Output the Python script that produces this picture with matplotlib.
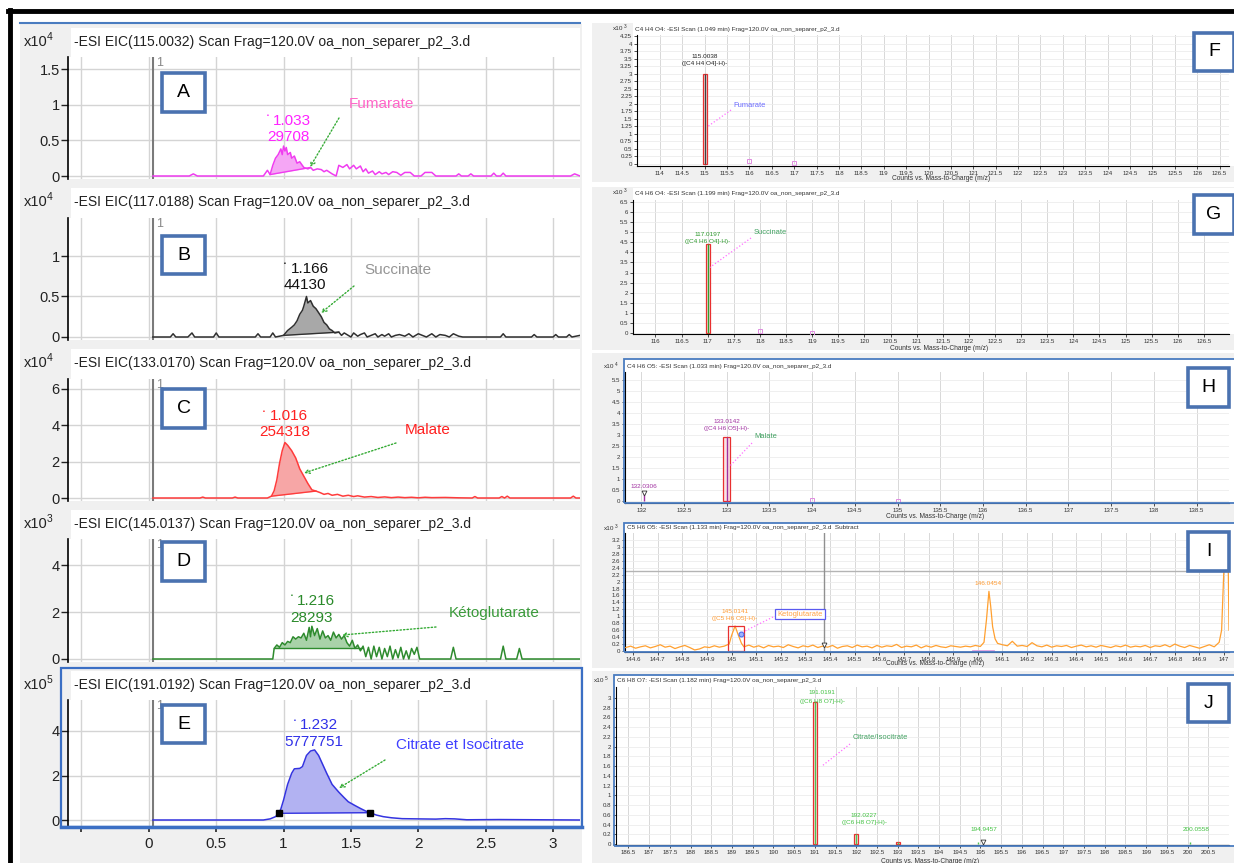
import numpy as np
import matplotlib
matplotlib.use('Agg')
import matplotlib.pyplot as plt
from matplotlib.patches import Rectangle, FancyArrowPatch
from matplotlib.lines import Line2D

W, H = 1234, 863
plt.rcParams['font.family'] = ['Liberation Sans', 'DejaVu Sans']

# ---- left column: extracted ion chromatograms, (time min, intensity)
fumarate_eic = [(0.03, 0), (0.30, 0), (0.33, 0.03), (0.36, 0), (0.85, 0), (0.88, 0.08), (0.90, 0.02),
                (0.92, 0.15), (0.94, 0.25), (0.96, 0.30), (0.98, 0.38), (0.99, 0.30), (1.00, 0.42),
                (1.01, 0.35), (1.02, 0.40), (1.03, 0.30), (1.05, 0.33), (1.06, 0.25), (1.08, 0.28),
                (1.10, 0.18), (1.12, 0.20), (1.15, 0.12), (1.18, 0.10), (1.20, 0.12), (1.22, 0.08),
                (1.25, 0.10), (1.28, 0.09), (1.30, 0.06), (1.32, 0.08), (1.36, 0.03), (1.39, 0.0),
                (1.41, 0.15), (1.44, 0.12), (1.47, 0.16), (1.49, 0.10), (1.52, 0.15), (1.54, 0.10),
                (1.57, 0.14), (1.59, 0.06), (1.61, 0.10), (1.63, 0.04), (1.66, 0.07), (1.68, 0.02),
                (1.71, 0.06), (1.73, 0.03), (1.76, 0.05), (1.78, 0.02), (1.81, 0.06), (1.84, 0.05),
                (1.87, 0.01), (1.90, 0.05), (1.94, 0.05), (1.97, 0.0), (2.02, 0.0), (2.05, 0.05),
                (2.10, 0.05), (2.13, 0.0), (2.28, 0), (2.30, 0.03), (2.32, 0), (2.37, 0), (2.39, 0.03),
                (2.41, 0), (2.54, 0), (2.56, 0.04), (2.58, 0), (2.61, 0), (2.63, 0.04), (2.65, 0),
                (3.13, 0), (3.16, 0.03), (3.20, 0)]
succinate_eic = [(0.03, 0), (0.16, 0), (0.18, 0.04), (0.20, 0), (0.29, 0), (0.32, 0.05), (0.34, 0),
                 (0.48, 0), (0.50, 0.05), (0.52, 0), (0.79, 0), (0.81, 0.04), (0.83, 0), (0.90, 0),
                 (0.92, 0.05), (0.94, 0), (1.00, 0.02), (1.03, 0.08), (1.06, 0.12), (1.08, 0.15),
                 (1.10, 0.20), (1.12, 0.28), (1.14, 0.33), (1.15, 0.38), (1.17, 0.50), (1.18, 0.42),
                 (1.20, 0.45), (1.22, 0.38), (1.24, 0.35), (1.26, 0.30), (1.28, 0.25), (1.30, 0.18),
                 (1.32, 0.15), (1.34, 0.10), (1.36, 0.08), (1.38, 0.05), (1.41, 0.06), (1.43, 0.02),
                 (1.45, 0.05), (1.48, 0.02), (1.50, 0.0), (1.52, 0.05), (1.55, 0.01), (1.57, 0.03),
                 (1.60, 0.05), (1.62, 0), (1.65, 0.02), (1.68, 0.04), (1.70, 0), (1.73, 0.03),
                 (1.75, 0.01), (1.78, 0.04), (1.80, 0), (1.83, 0.02), (1.86, 0.03), (1.90, 0.01),
                 (1.93, 0.04), (1.96, 0), (2.00, 0.04), (2.03, 0.02), (2.06, 0), (2.10, 0.04),
                 (2.13, 0), (2.16, 0.03), (2.20, 0.02), (2.23, 0), (2.26, 0.04), (2.30, 0.01),
                 (2.33, 0), (2.61, 0), (2.63, 0.04), (2.65, 0), (2.84, 0), (2.86, 0.03), (2.88, 0),
                 (3.00, 0), (3.02, 0.03), (3.04, 0), (3.10, 0), (3.12, 0.03), (3.14, 0), (3.20, 0.02)]
malate_eic = [(0.03, 0), (0.38, 0), (0.40, 0.05), (0.42, 0), (0.62, 0), (0.64, 0.05), (0.66, 0),
              (0.88, 0), (0.91, 0.1), (0.93, 0.4), (0.95, 1.0), (0.97, 1.9), (0.99, 2.6), (1.01, 3.05),
              (1.03, 2.9), (1.06, 2.6), (1.09, 2.2), (1.12, 1.6), (1.15, 1.2), (1.18, 0.8), (1.21, 0.45),
              (1.24, 0.38), (1.27, 0.3), (1.30, 0.2), (1.33, 0.25), (1.36, 0.15), (1.40, 0.2), (1.44, 0.1),
              (1.48, 0.15), (1.52, 0.08), (1.55, 0.12), (1.60, 0.05), (1.65, 0.08), (1.70, 0.03),
              (1.75, 0.06), (1.80, 0.02), (1.85, 0.05), (1.90, 0.02), (1.95, 0.04), (2.00, 0.01),
              (2.05, 0.04), (2.10, 0.02), (2.20, 0.03), (2.30, 0.01), (2.40, 0), (2.42, 0.08),
              (2.44, 0), (2.60, 0), (2.62, 0.08), (2.64, 0), (2.66, 0.1), (2.68, 0), (3.13, 0),
              (3.15, 0.1), (3.17, 0), (3.20, 0)]
ketoglutarate_eic = [(0.03, 0), (0.92, 0), (0.93, 0.45), (0.95, 0.6), (0.97, 0.5), (0.99, 0.7),
                     (1.01, 0.6), (1.03, 0.75), (1.05, 0.7), (1.07, 0.95), (1.09, 0.85), (1.11, 0.95),
                     (1.13, 0.9), (1.15, 1.1), (1.17, 0.8), (1.19, 1.35), (1.20, 0.95), (1.21, 1.4),
                     (1.23, 1.0), (1.25, 1.3), (1.27, 0.85), (1.29, 1.2), (1.31, 0.9), (1.33, 1.0),
                     (1.35, 0.8), (1.37, 1.15), (1.39, 0.9), (1.41, 1.05), (1.43, 0.85), (1.45, 1.0),
                     (1.47, 0.7), (1.49, 0.55), (1.51, 0.8), (1.53, 0.45), (1.55, 0.6), (1.57, 0.35),
                     (1.59, 0.55), (1.61, 0.1), (1.63, 0.5), (1.65, 0.0), (1.67, 0.55), (1.69, 0.1),
                     (1.71, 0.5), (1.73, 0.0), (1.75, 0.45), (1.77, 0.1), (1.79, 0.55), (1.81, 0.0),
                     (1.83, 0.4), (1.85, 0.05), (1.87, 0.5), (1.89, 0.0), (1.91, 0.35), (1.93, 0.0),
                     (1.95, 0.45), (1.97, 0.2), (1.99, 0.5), (2.01, 0.0), (2.24, 0), (2.26, 0.5),
                     (2.28, 0), (2.61, 0), (2.63, 0.55), (2.65, 0), (2.73, 0), (2.75, 0.45), (2.77, 0),
                     (3.20, 0)]
citrate_eic = [(0.03, 0), (0.85, 0), (0.90, 0.05), (0.94, 0.15), (0.965, 0.3), (0.98, 0.5), (1.00, 0.9),
               (1.03, 1.6), (1.06, 2.1), (1.08, 2.3), (1.12, 2.32), (1.14, 2.4), (1.17, 2.9), (1.20, 3.1),
               (1.23, 3.15), (1.26, 2.9), (1.29, 2.5), (1.32, 2.1), (1.36, 1.6), (1.41, 1.25), (1.45, 1.0),
               (1.48, 0.82), (1.53, 0.65), (1.57, 0.52), (1.61, 0.4), (1.64, 0.33), (1.69, 0.22),
               (1.74, 0.15), (1.80, 0.1), (1.88, 0.06), (2.00, 0.05), (2.13, 0.04), (2.20, 0.06),
               (2.27, 0.05), (2.36, 0.01), (2.60, 0.02), (3.20, 0)]

eic_traces = [fumarate_eic, succinate_eic, malate_eic, ketoglutarate_eic, citrate_eic]
eic_mz = ['115.0032', '117.0188', '133.0170', '145.0137', '191.0192']
eic_exp = ['4', '4', '4', '3', '5']
eic_rt = ['1.033', '1.166', '1.016', '1.216', '1.232']
eic_area = ['29708', '44130', '254318', '28293', '5777751']
eic_names = ['Fumarate', 'Succinate', 'Malate', 'Kétoglutarate', 'Citrate et Isocitrate']
eic_integration = [(0.90, 1.20), (1.00, 1.41), (0.91, 1.24), (0.93, 1.58), (0.965, 1.64)]
eic_yticks = [[0, 0.5, 1, 1.5], [0, 0.5, 1], [0, 2, 4, 6], [0, 2, 4], [0, 2, 4]]
eic_letters = ['A', 'B', 'C', 'D', 'E']

# ---- right column: mass spectra, (m/z, intensity)
fumarate_ms = [(115.0, 3.0)]
fumarate_iso = [(116.0, 0.1), (117.0, 0.02)]
succinate_ms = [(117.0, 4.4)]
succinate_iso = [(118.0, 0.1), (119.0, 0.02)]
malate_ms = [(133.0, 2.9)]
malate_iso = [(134.0, 0.05), (135.0, 0.02)]
malate_minor = [(132.03, 0.35)]
citrate_ms = [(191.0, 2.92), (192.0, 0.2), (193.0, 0.05)]
citrate_minor = [(194.95, 0.05), (200.05, 0.05)]
ketoglutarate_ms = [
    (144.57, 0.10), (144.59, 0.14), (144.61, 0.08), (144.63, 0.12), (144.65, 0.15), (144.67, 0.09),
    (144.69, 0.13), (144.71, 0.18), (144.73, 0.11), (144.75, 0.14), (144.77, 0.07), (144.79, 0.12),
    (144.81, 0.16), (144.83, 0.10), (144.85, 0.03), (144.87, 0.06), (144.89, 0.12), (144.91, 0.10),
    (144.93, 0.15), (144.95, 0.11), (144.97, 0.14), (144.99, 0.20), (145.00, 0.45), (145.014, 0.72),
    (145.025, 0.50), (145.04, 0.22), (145.05, 0.12), (145.07, 0.17), (145.09, 0.11), (145.11, 0.15),
    (145.13, 0.09), (145.15, 0.16), (145.17, 0.12), (145.19, 0.14), (145.21, 0.10), (145.23, 0.18),
    (145.25, 0.13), (145.27, 0.09), (145.29, 0.15), (145.31, 0.12), (145.33, 0.17), (145.35, 0.10),
    (145.37, 0.14), (145.39, 0.11), (145.41, 0.16), (145.43, 0.08), (145.45, 0.13), (145.47, 0.15),
    (145.49, 0.10), (145.51, 0.17), (145.53, 0.12), (145.55, 0.14), (145.57, 0.09), (145.59, 0.16),
    (145.61, 0.11), (145.63, 0.15), (145.65, 0.13), (145.67, 0.19), (145.69, 0.10), (145.71, 0.14),
    (145.73, 0.12), (145.75, 0.17), (145.77, 0.09), (145.79, 0.15), (145.81, 0.11), (145.83, 0.16),
    (145.85, 0.12), (145.87, 0.10), (145.89, 0.15), (145.91, 0.13), (145.93, 0.11), (145.95, 0.14),
    (145.97, 0.12), (145.99, 0.16), (146.01, 0.13), (146.025, 0.25), (146.035, 0.90), (146.045, 1.72),
    (146.052, 1.30), (146.06, 0.70), (146.07, 0.35), (146.08, 0.22), (146.10, 0.18), (146.12, 0.15),
    (146.14, 0.28), (146.16, 0.14), (146.18, 0.16), (146.20, 0.13), (146.22, 0.24), (146.24, 0.15),
    (146.26, 0.12), (146.28, 0.17), (146.30, 0.11), (146.32, 0.15), (146.34, 0.13), (146.36, 0.16),
    (146.38, 0.10), (146.40, 0.14), (146.42, 0.17), (146.44, 0.12), (146.46, 0.15), (146.48, 0.11),
    (146.50, 0.16), (146.52, 0.13), (146.54, 0.10), (146.56, 0.15), (146.58, 0.12), (146.60, 0.17),
    (146.62, 0.11), (146.64, 0.14), (146.66, 0.12), (146.68, 0.16), (146.70, 0.10), (146.72, 0.15),
    (146.74, 0.13), (146.76, 0.18), (146.78, 0.12), (146.80, 0.20), (146.82, 0.14), (146.84, 0.10),
    (146.86, 0.16), (146.88, 0.12), (146.90, 0.08), (146.92, 0.13), (146.94, 0.18), (146.96, 0.12),
    (146.98, 0.25), (146.99, 0.60), (147.00, 2.50), (147.005, 3.60), (147.015, 3.60), (147.02, 0.60)]

ms_titles = ['C4 H4 O4: -ESI Scan (1.049 min) Frag=120.0V oa_non_separer_p2_3.d',
             'C4 H6 O4: -ESI Scan (1.199 min) Frag=120.0V oa_non_separer_p2_3.d',
             'C4 H6 O5: -ESI Scan (1.033 min) Frag=120.0V oa_non_separer_p2_3.d',
             'C5 H6 O5: -ESI Scan (1.133 min) Frag=120.0V oa_non_separer_p2_3.d  Subtract',
             'C6 H8 O7: -ESI Scan (1.182 min) Frag=120.0V oa_non_separer_p2_3.d']
ms_exp = ['3', '3', '4', '3', '5']
ms_letters = ['F', 'G', 'H', 'I', 'J']


fig = plt.figure(figsize=(W / 100, H / 100), dpi=100)


def box_px(x0, y0, x1, y1):
    return [x0 / W, 1 - y1 / H, (x1 - x0) / W, (y1 - y0) / H]


def rect(x0, y0, x1, y1, **kw):
    fig.patches.append(Rectangle((x0 / W, 1 - y1 / H), (x1 - x0) / W, (y1 - y0) / H,
                                 transform=fig.transFigure, **kw))


def line(xs, ys, **kw):
    fig.add_artist(Line2D([x / W for x in xs], [1 - y / H for y in ys],
                          transform=fig.transFigure, **kw))


def text(x, y, s, **kw):
    kw.setdefault('va', 'center')
    fig.text(x / W, 1 - y / H, s, **kw)


def letter_box(x0, y0, x1, y1, s):
    rect(x0, y0, x1, y1, facecolor='white', edgecolor='#4a72b0', lw=2.6, zorder=5)
    text((x0 + x1) / 2, (y0 + y1) / 2, s, ha='center', fontsize=14, zorder=6)


def arrow(x0, y0, x1, y1, color):
    fig.add_artist(FancyArrowPatch(
        (x0 / W, 1 - y0 / H), (x1 / W, 1 - y1 / H), transform=fig.transFigure,
        arrowstyle='->', color=color, lw=1, linestyle=(0, (1, 1.5)),
        shrinkA=0, shrinkB=0, mutation_scale=8, zorder=6))


# backgrounds
rect(20, 24, 582, 863, facecolor='#f0f0f0', lw=0, zorder=-3)
line([20, 580], [23, 23], color='#4a7cc0', lw=1.5)

# ---- left panels layout (pixels)
eic_layout = [
    dict(title=42, top=57, bot=179, zero=176, ppu=71.3, box=(162, 73, 205, 112)),
    dict(title=202, top=218, bot=340, zero=337, ppu=81.0, box=(162, 236, 205, 274)),
    dict(title=363, top=379, bot=501, zero=498, ppu=18.2, box=(162, 389, 205, 428)),
    dict(title=524, top=539, bot=662, zero=659, ppu=23.4, box=(162, 542, 205, 581)),
    dict(title=685, top=700, bot=826, zero=820, ppu=22.25, box=(162, 705, 205, 743)),
]
eic_colors = ['#f03cf0', '#303030', '#ff3c3c', '#2e8b2e', '#3434e0']
eic_fills = ['#f5a6f5', '#a8a8a8', '#f7a6a6', '#a9d2a9', '#b2b2f2']
eic_textc = ['#ff22ff', '#111111', '#ff2020', '#2a8a2a', '#3030e8']
eic_namec = ['#ff66c8', '#959595', '#ff2020', '#3a9a3a', '#4040ff']
eic_text_pos = [  # dot, rt, area, name, arrow start, arrow end
    dict(dot=(268, 116), rt=(292, 121), area=(288, 137), name=(381, 104), a0=(339, 118), a1=(310, 167)),
    dict(dot=(285, 264), rt=(310, 269), area=(305, 285), name=(398, 270), a0=(354, 286), a1=(321, 313)),
    dict(dot=(264, 411), rt=(289, 416), area=(285, 432), name=(428, 430), a0=(396, 443), a1=(304, 473)),
    dict(dot=(292, 596), rt=(316, 601), area=(312, 618), name=(494, 613), a0=(436, 627), a1=(342, 635)),
    dict(dot=(295, 720), rt=(319, 725), area=(314, 742), name=(460, 745), a0=(385, 760), a1=(339, 788)),
]

for i, trace in enumerate(eic_traces):
    lay = eic_layout[i]
    top, bot, zero, ppu = lay['top'], lay['bot'], lay['zero'], lay['ppu']
    rect(71, lay['title'] - 14, 580, top, facecolor='white', lw=0, zorder=-2)
    text(24, lay['title'], 'x10', fontsize=10.5, color='#222222')
    text(47, lay['title'] - 5, eic_exp[i], fontsize=7.5, color='#222222')
    text(74, lay['title'], '-ESI EIC(%s) Scan Frag=120.0V oa_non_separer_p2_3.d' % eic_mz[i],
         fontsize=10.0, color='#222222')

    ax = fig.add_axes(box_px(68, top, 580, bot))
    ax.set_facecolor('white')
    ax.set_xlim(-0.6, 3.2)
    ax.set_ylim(-(bot - zero) / ppu, (zero - top) / ppu)
    ax.set_xticks(np.arange(-0.5, 3.01, 0.5))
    ax.set_yticks(eic_yticks[i])
    ax.set_yticklabels(['%g' % y for y in eic_yticks[i]])
    ax.grid(True, color='#d4d4d4', lw=1)
    ax.set_axisbelow(True)
    for s in ['top', 'right', 'bottom']:
        ax.spines[s].set_visible(False)
    ax.spines['left'].set_linewidth(1.2)
    ax.tick_params(axis='y', length=5, width=1, labelsize=10.5, pad=1, colors='#222222')
    if i < 4:
        ax.tick_params(axis='x', length=0, labelbottom=False)
    else:
        ax.set_xticklabels(['', '0', '0.5', '1', '1.5', '2', '2.5', '3'])
        ax.tick_params(axis='x', length=4, width=1.2, labelsize=11, pad=4, colors='#222222')

    ax.axvline(0.03, color='#7a7a7a', lw=1.5, zorder=1.5)
    ax.text(0.05, ax.get_ylim()[1], '1', fontsize=9, color='#888888', va='top', ha='left')

    t = np.array([p[0] for p in trace])
    v = np.array([p[1] for p in trace])
    fs, fe = eic_integration[i]
    inside = (t > fs) & (t < fe)
    tt = np.concatenate([[fs], t[inside], [fe]])
    vv = np.interp(tt, t, v)
    base = np.interp(tt, [fs, fe], [vv[0], vv[-1]])
    ax.fill_between(tt, vv, base, color=eic_fills[i], lw=0, zorder=2)
    ax.plot([fs, fe], [vv[0], vv[-1]], color=eic_colors[i], lw=1, zorder=3)
    ax.plot(t, v, color=eic_colors[i], lw=1.1, zorder=3, clip_on=True)
    if i == 4:
        ax.plot([fs, fe], [vv[0], vv[-1]], 's', color='black', ms=5, zorder=4)

    tp = eic_text_pos[i]
    text(*tp['dot'], '▪', fontsize=4, color=eic_textc[i], ha='center')
    text(*tp['rt'], eic_rt[i], fontsize=11, color=eic_textc[i], ha='center')
    text(*tp['area'], eic_area[i], fontsize=11, color=eic_textc[i], ha='center')
    text(*tp['name'], eic_names[i], fontsize=11, color=eic_namec[i], ha='center')
    letter_box(*lay['box'], eic_letters[i])

for i in range(5):
    tp = eic_text_pos[i]
    arrow(*tp['a0'], *tp['a1'], '#33aa33')

# panel E blue frame
rect(61, 668, 582, 827, facecolor='none', edgecolor='#3b6fc4', lw=1.6, zorder=4)
line([61, 582], [827, 827], color='#3b6fc4', lw=2.5, zorder=4)

# ---- right panels
ms_layout = [
    dict(bg=(592, 23, 1234, 182), ax=(637, 35, 1229, 166), zero=164, ppu=30.1, xlim=(113.49, 126.71),
         xt=(114, 126.5, 0.5), yt=(0, 4.25, 0.25), title=29, xlab=178, expx=613, tx=635,
         box=(1194, 33, 1234, 71), frame=None),
    dict(bg=(592, 187, 1234, 350), ax=(633, 200, 1229, 334), zero=333, ppu=20.15, xlim=(115.57, 126.98),
         xt=(116, 126.5, 0.5), yt=(0, 6.5, 0.5), title=193, xlab=348, expx=613, tx=635,
         box=(1194, 195, 1234, 234), frame=None),
    dict(bg=(592, 353, 1234, 520), ax=(625, 372, 1229, 503), zero=501, ppu=22.0, xlim=(131.81, 138.88),
         xt=(132, 138.5, 0.5), yt=(0, 5.5, 0.5), title=366, xlab=516, expx=604, tx=627,
         box=(1188, 368, 1229, 407), frame=(624, 359, 1237, 503)),
    dict(bg=(592, 520, 1234, 668), ax=(625, 533, 1229, 652), zero=651, ppu=34.7, xlim=(144.567, 147.02),
         xt=(144.6, 147.0, 0.1), yt=(0, 3.2, 0.2), title=528, xlab=663, expx=604, tx=627,
         box=(1188, 532, 1229, 571), frame=(624, 523, 1237, 652)),
    dict(bg=(592, 671, 1234, 863), ax=(616, 687, 1229, 845), zero=844, ppu=48.67, xlim=(186.2, 201.0),
         xt=(186.5, 200.5, 0.5), yt=(0, 3.0, 0.2), title=680, xlab=861, expx=594, tx=617,
         box=(1188, 684, 1229, 722), frame=(614, 675, 1237, 846)),
]

ms_axes = []
for i, lay in enumerate(ms_layout):
    rect(*lay['bg'], facecolor='#f0f0f0', lw=0, zorder=-3)
    x0, y0, x1, y1 = lay['ax']
    if lay['frame'] is not None:
        fx0, fy0, fx1, fy1 = lay['frame']
        rect(fx0, fy0, fx1, fy1, facecolor='white', lw=0, zorder=-2)
    else:
        rect(633, y0 - 12, 1234, y1, facecolor='white', lw=0, zorder=-2)
    ax = fig.add_axes(box_px(x0, y0, x1, y1))
    ax.set_facecolor('white')
    ax.set_xlim(*lay['xlim'])
    ax.set_ylim(-(y1 - lay['zero']) / lay['ppu'], (lay['zero'] - y0) / lay['ppu'])
    xt = np.arange(lay['xt'][0], lay['xt'][1] + 1e-6, lay['xt'][2])
    yt = np.arange(lay['yt'][0], lay['yt'][1] + 1e-6, lay['yt'][2])
    ax.set_xticks(xt)
    ax.set_xticklabels(['%g' % round(x, 2) for x in xt])
    ax.set_yticks(yt)
    ax.set_yticklabels(['%g' % round(y, 2) for y in yt])
    ax.grid(True, axis='x', color='#d8d8d8', lw=0.7)
    ax.grid(True, axis='y', color='#ececec', lw=0.6)
    ax.set_axisbelow(True)
    for s in ['top', 'right']:
        ax.spines[s].set_visible(False)
    for s in ['left', 'bottom']:
        ax.spines[s].set_linewidth(0.8)
    ax.tick_params(length=2, width=0.6, labelsize=4.4, pad=1.5, colors='#333333')
    text(lay['expx'], lay['title'], 'x10', fontsize=4.6, color='#333333')
    text(lay['expx'] + 11, lay['title'] - 2, ms_exp[i], fontsize=3.4, color='#333333')
    text(lay['tx'], lay['title'], ms_titles[i], fontsize=4.6, color='#333333')
    text((x0 + x1) / 2 + 8, lay['xlab'], 'Counts vs. Mass-to-Charge (m/z)', fontsize=4.8,
         color='#333333', ha='center')
    if lay['frame'] is not None:
        fx0, fy0, fx1, fy1 = lay['frame']
        rect(fx0, fy0, fx1, fy1, facecolor='none', edgecolor='#4a7cc0', lw=1.3, zorder=4)
    letter_box(*lay['box'], ms_letters[i])
    ms_axes.append(ax)


def ms_bars(ax, peaks, width, inner):
    mz = [p[0] for p in peaks]
    h = [p[1] for p in peaks]
    ax.bar(mz, h, width=width, facecolor='#fbe4e4', edgecolor='#e83030', lw=0.9, zorder=3)
    ax.vlines(mz, 0, h, color=inner, lw=1.0, zorder=4)


def iso_marks(ax, peaks):
    ax.plot([p[0] for p in peaks], [p[1] for p in peaks], 's', mfc='none', mec='#e08ce0',
            ms=3, mew=0.7, zorder=3)


pink = '#ff70ff'
# F
ax = ms_axes[0]
ms_bars(ax, fumarate_ms, 0.09, '#404040')
iso_marks(ax, fumarate_iso)
text(705, 57, '115.0038', fontsize=4.6, color='#222222', ha='center')
text(705, 64, '([C4 H4 O4]-H)-', fontsize=4.6, color='#222222', ha='center')
text(750, 105, 'Fumarate', fontsize=5.4, color='#6a6aff', ha='center')
line([731, 707], [110, 127], color=pink, lw=0.9, ls=':', zorder=6)
# G
ax = ms_axes[1]
ms_bars(ax, succinate_ms, 0.08, '#30a030')
iso_marks(ax, succinate_iso)
text(708, 234, '117.0197', fontsize=4.6, color='#2f9a2f', ha='center')
text(708, 241, '([C4 H6 O4]-H)-', fontsize=4.6, color='#2f9a2f', ha='center')
text(770, 232, 'Succinate', fontsize=5.4, color='#40a060', ha='center')
line([751, 709], [238, 268], color=pink, lw=0.9, ls=':', zorder=6)
# H
ax = ms_axes[2]
ms_bars(ax, malate_ms, 0.08, '#a030a0')
iso_marks(ax, malate_iso)
ax.vlines([p[0] for p in malate_minor], 0, [p[1] for p in malate_minor], color='#a030a0', lw=1)
ax.plot([p[0] for p in malate_minor], [p[1] for p in malate_minor], 'v', mfc='white',
        mec='#333333', ms=3.5, mew=0.6)
text(644, 486, '132.0306', fontsize=4.6, color='#a030a0', ha='center')
text(727, 421, '133.0142', fontsize=4.6, color='#a030a0', ha='center')
text(727, 428, '([C4 H6 O5]-H)-', fontsize=4.6, color='#a030a0', ha='center')
text(766, 437, 'Malate', fontsize=5.4, color='#40a060', ha='center')
line([752, 729], [443, 467], color=pink, lw=0.9, ls=':', zorder=6)
# I
ax = ms_axes[3]
ax.axhline(2.3, color='#b4b4b4', lw=1.0, zorder=2)
ax.plot([p[0] for p in ketoglutarate_ms], [p[1] for p in ketoglutarate_ms], color='#ffa030',
        lw=0.9, zorder=3)
ax.axvline(145.375, color='#909090', lw=1, zorder=2)
ax.plot([145.375], [0.18], 'v', mfc='white', mec='#333333', ms=3.5, mew=0.6, zorder=4)
ax.add_patch(Rectangle((144.985, 0), 0.065, 0.72, facecolor='none', edgecolor='#e83030', lw=0.9,
                       zorder=4))
ax.plot([145.04], [0.5], 'o', color='#4a6cf0', ms=3.5, mfc='#9fb2ff', mew=0.8, zorder=5)
ax.plot([145.98, 146.06], [0.0, 0.0], color='#e0a0e0', lw=2, zorder=4)
text(988, 583, '146.0454', fontsize=4.6, color='#ff9a30', ha='center')
text(735, 611, '145.0141', fontsize=4.6, color='#ff9a30', ha='center')
text(735, 618, '([C5 H6 O5]-H)-', fontsize=4.6, color='#ff9a30', ha='center')
text(800, 614, 'Ketoglutarate', fontsize=5.4, color='#ffa040', ha='center',
     bbox=dict(boxstyle='square,pad=0.25', facecolor='white', edgecolor='#5a5af0', lw=0.9))
line([773, 743], [617, 632], color=pink, lw=0.9, ls=':', zorder=6)
# J
ax = ms_axes[4]
ms_bars(ax, citrate_ms, 0.1, '#50c050')
ax.vlines([p[0] for p in citrate_minor], 0, [p[1] for p in citrate_minor], color='#50c050', lw=1)
ax.plot([195.05], [0.05], 'v', mfc='white', mec='#333333', ms=3.5, mew=0.6)
text(822, 693, '191.0191', fontsize=4.6, color='#40c040', ha='center')
text(822, 701, '([C6 H8 O7]-H)-', fontsize=4.6, color='#40c040', ha='center')
text(880, 737, 'Citrate/Isocitrate', fontsize=5.4, color='#40a060', ha='center')
line([850, 822], [744, 766], color=pink, lw=0.9, ls=':', zorder=6)
text(864, 815, '192.0227', fontsize=4.6, color='#40c040', ha='center')
text(864, 822, '([C6 H8 O7]-H)-', fontsize=4.6, color='#40c040', ha='center')
text(984, 829, '194.9457', fontsize=4.6, color='#40c040', ha='center')
text(1196, 829, '200.0558', fontsize=4.6, color='#40c040', ha='center')

# outer black frame
line([8, 1234], [11, 11], color='black', lw=3.5, zorder=10)
line([10, 10], [10, 863], color='black', lw=3.5, zorder=10)

fig.savefig('out.png', dpi=100, facecolor='white')
